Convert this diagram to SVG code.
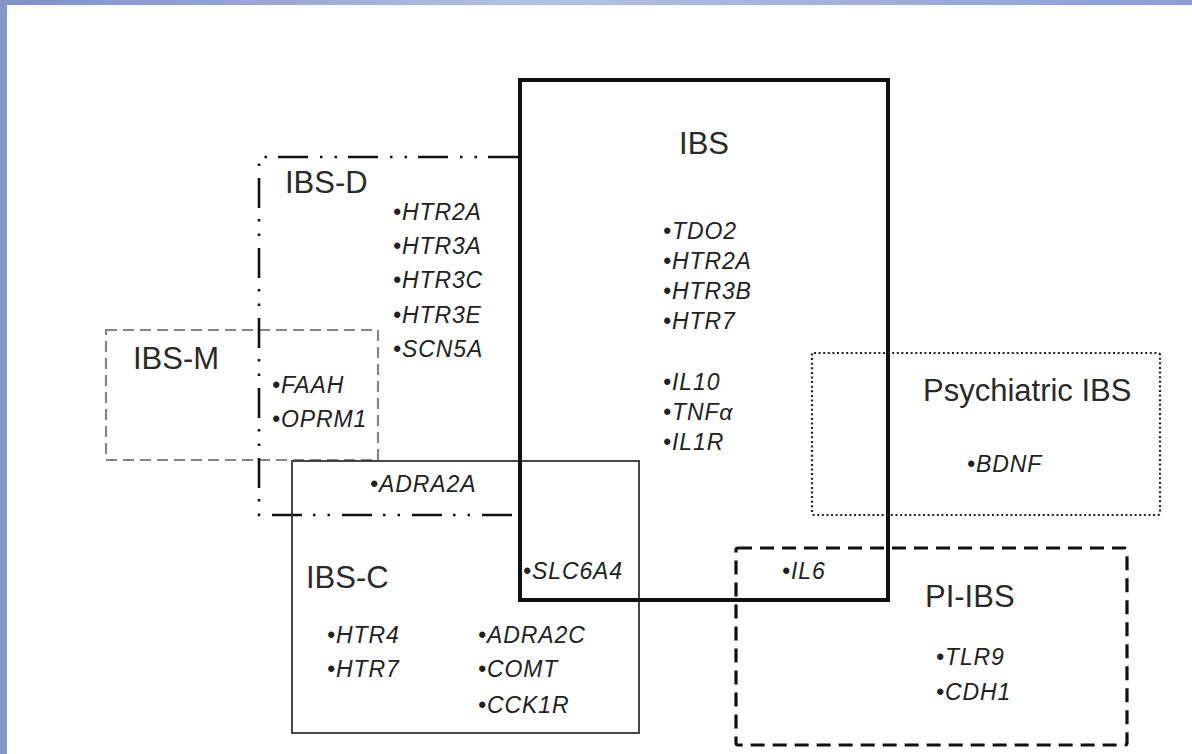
<svg xmlns="http://www.w3.org/2000/svg" width="1192" height="754" viewBox="0 0 1192 754">
<defs>
<linearGradient id="topband" x1="0" y1="0" x2="1" y2="0">
<stop offset="0" stop-color="#7f90c2"/>
<stop offset="0.45" stop-color="#b3c1e4"/>
<stop offset="1" stop-color="#8c9ecf"/>
</linearGradient>
<style>
.lbl{font-family:"Liberation Sans",Arial,sans-serif;font-size:31px;fill:#2a2a2a}
.gene{font-family:"Liberation Sans",Arial,sans-serif;font-size:23px;font-style:italic;letter-spacing:0.9px;fill:#222}
.box{fill:none}
</style>
</defs>
<rect x="0" y="0" width="1192" height="754" fill="#ffffff"/>
<rect x="0" y="0" width="1192" height="5" fill="url(#topband)"/>
<rect x="0" y="0" width="7" height="754" fill="#8596c8"/>

<g id="connectors"></g>

<g id="ibs-m">
<rect class="box" x="106" y="330" width="272" height="130" stroke="#858585" stroke-width="2.2" stroke-dasharray="11 6"/>
<text class="lbl" x="133" y="369">IBS-M</text>
<text class="gene" x="272" y="393">•FAAH</text>
<text class="gene" x="272" y="427">•OPRM1</text>
</g>

<g id="ibs-d">
<path class="box" d="M518 157 H259 V515 H512" stroke="#111" stroke-width="2.6" stroke-dasharray="30 11 2.5 12 2.5 12"/>
<text class="lbl" x="285" y="193">IBS-D</text>
<text class="gene" x="393" y="220">•HTR2A</text>
<text class="gene" x="393" y="254">•HTR3A</text>
<text class="gene" x="393" y="288">•HTR3C</text>
<text class="gene" x="393" y="323">•HTR3E</text>
<text class="gene" x="393" y="357">•SCN5A</text>
</g>

<g id="ibs-c">
<rect class="box" x="292" y="461" width="347" height="272" stroke="#333" stroke-width="1.8"/>
<text class="lbl" x="306" y="588">IBS-C</text>
<text class="gene" x="370" y="492">•ADRA2A</text>
<text class="gene" x="327" y="643">•HTR4</text>
<text class="gene" x="327" y="677">•HTR7</text>
<text class="gene" x="478" y="643">•ADRA2C</text>
<text class="gene" x="478" y="677">•COMT</text>
<text class="gene" x="478" y="713">•CCK1R</text>
</g>

<g id="ibs">
<rect class="box" x="520" y="80" width="368" height="520" stroke="#111" stroke-width="4"/>
<text class="lbl" x="704" y="154" text-anchor="middle" font-size="38">IBS</text>
<text class="gene" x="663" y="239">•TDO2</text>
<text class="gene" x="663" y="269">•HTR2A</text>
<text class="gene" x="663" y="299">•HTR3B</text>
<text class="gene" x="663" y="329">•HTR7</text>
<text class="gene" x="663" y="390">•IL10</text>
<text class="gene" x="663" y="420">•TNFα</text>
<text class="gene" x="663" y="450">•IL1R</text>
<text class="gene" x="523" y="579">•SLC6A4</text>
</g>

<g id="psychiatric-ibs">
<rect class="box" x="812" y="353" width="348" height="162" rx="2" stroke="#222" stroke-width="2.2" stroke-dasharray="2 2.6"/>
<text class="lbl" x="923" y="401">Psychiatric IBS</text>
<text class="gene" x="967" y="472">•BDNF</text>
</g>

<g id="pi-ibs">
<rect class="box" x="736" y="548" width="391" height="197" rx="2" stroke="#111" stroke-width="3.2" stroke-dasharray="14 8"/>
<text class="lbl" x="925" y="607">PI-IBS</text>
<text class="gene" x="782" y="579">•IL6</text>
<text class="gene" x="936" y="665">•TLR9</text>
<text class="gene" x="936" y="700">•CDH1</text>
</g>
</svg>
